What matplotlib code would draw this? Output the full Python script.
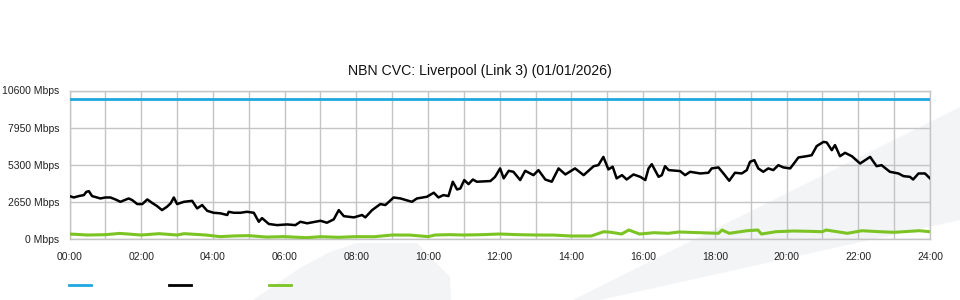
"""
NBN CVC: Liverpool (Link 3) - daily throughput chart, 01/01/2026.
Output: out.png (960x300)
"""
import matplotlib
matplotlib.use("Agg")
import matplotlib.pyplot as plt
from matplotlib.patches import Polygon
from matplotlib.lines import Line2D

plt.rcParams["font.family"] = ["Liberation Sans", "DejaVu Sans"]

TITLE = "NBN CVC: Liverpool (Link 3) (01/01/2026)"

# capacity (Mbps)
capacity_hours = [0, 24]
capacity_mbps = [10000, 10000]

# traffic (black), hours of day -> Mbps
traffic_hours = [
    0.00, 0.12, 0.26, 0.40, 0.47, 0.54, 0.63, 0.77, 0.86, 1.00, 1.14, 1.28,
    1.42, 1.65, 1.75, 1.89, 2.03, 2.17, 2.30, 2.44, 2.58, 2.72, 2.82, 2.91,
    3.00, 3.19, 3.42, 3.56, 3.70, 3.84, 4.02, 4.21, 4.40, 4.44, 4.58, 4.77,
    4.95, 5.14, 5.28, 5.37, 5.56, 5.79, 6.07, 6.30, 6.44, 6.63, 6.86, 7.00,
    7.18, 7.37, 7.51, 7.65, 7.93, 8.16, 8.25, 8.44, 8.67, 8.81, 9.04, 9.23,
    9.55, 9.69, 9.97, 10.16, 10.29, 10.43, 10.57, 10.69, 10.81, 10.90, 11.01,
    11.13, 11.25, 11.36, 11.74, 11.87, 12.01, 12.11, 12.25, 12.38, 12.57,
    12.71, 12.94, 13.08, 13.27, 13.45, 13.64, 13.83, 14.10, 14.34, 14.62,
    14.75, 14.89, 15.03, 15.15, 15.26, 15.41, 15.54, 15.73, 15.92, 16.06,
    16.15, 16.24, 16.43, 16.52, 16.61, 16.71, 17.03, 17.17, 17.31, 17.59,
    17.82, 17.91, 18.10, 18.24, 18.40, 18.56, 18.75, 18.89, 18.98, 19.10,
    19.21, 19.35, 19.49, 19.63, 19.77, 19.91, 20.10, 20.19, 20.33, 20.56,
    20.70, 20.84, 21.03, 21.12, 21.26, 21.35, 21.49, 21.63, 21.82, 22.05,
    22.33, 22.51, 22.65, 22.88, 23.12, 23.26, 23.44, 23.53, 23.68, 23.86,
    24.00,
]
traffic_mbps = [
    3080, 2980, 3080, 3150, 3380, 3430, 3080, 2980, 2910, 2980, 2980, 2840,
    2670, 2910, 2790, 2510, 2510, 2840, 2600, 2370, 2080, 2320, 2560, 2980,
    2510, 2670, 2740, 2200, 2440, 2030, 1890, 1850, 1730, 1960, 1890, 1890,
    1960, 1890, 1250, 1510, 1090, 1010, 1060, 1010, 1250, 1140, 1250, 1320,
    1180, 1420, 2080, 1650, 1560, 1730, 1560, 2080, 2510, 2440, 2980, 2910,
    2670, 2910, 3030, 3320, 2980, 3150, 3080, 4100, 3550, 3620, 4220,
    3930, 4260, 4100, 4150, 4450, 5050, 4340, 4880, 4810, 4220,
    4880, 4570, 4930, 4260, 4100, 5050, 4620, 5050, 4570, 5210,
    5280, 5870, 4980, 5170, 4340, 4570, 4260, 4620, 4450, 4220,
    5050, 5350, 4450, 4570, 5210, 4930, 4860, 4570, 4810, 4690,
    4740, 5050, 5120, 4690, 4170, 4740, 4690, 4930, 5520, 5640,
    5050, 4810, 5050, 4930, 5280, 5120, 5050, 5350, 5830, 5920,
    5990, 6640, 6940, 6900, 6350, 6710, 5920, 6160, 5920, 5400,
    5870, 5210, 5280, 4810, 4690, 4500, 4450, 4260, 4690, 4690,
    4340,
]

# green series, hours -> Mbps
green_hours = [
    0, 0.5, 1.0, 1.4, 2.0, 2.5, 3.0, 3.2, 3.8, 4.2, 4.6, 5.0, 5.5, 6.0, 6.6,
    7.0, 7.5, 8.0, 8.5, 9.0, 9.5, 10.0, 10.2, 10.6, 11.0, 11.5, 12.0, 12.5,
    13.0, 13.5, 14.0, 14.55, 14.9, 15.1, 15.4, 15.6, 15.9, 16.3, 16.7, 17.0,
    17.6, 18.1, 18.2, 18.4, 18.9, 19.2, 19.3, 19.7, 20.2, 20.6, 21.0, 21.1,
    21.7, 22.1, 22.6, 23.0, 23.7, 24.0,
]
green_mbps = [
    377, 306, 330, 420, 306, 400, 306, 400, 306, 190, 240, 260, 160, 190, 114,
    185, 142, 190, 185, 306, 300, 190, 306, 330, 306, 330, 377, 330,
    306, 300, 235, 235, 541, 500, 377, 662, 377, 470, 427, 520,
    470, 427, 662, 427, 612, 662, 377, 541, 591, 570, 541, 662,
    427, 612, 541, 498, 612, 541,
]

y_ticks = [0, 2650, 5300, 7950, 10600]
y_labels = [f"{v} Mbps" for v in y_ticks]
x_ticks = list(range(0, 25, 2))
x_labels = [f"{h:02d}:00" for h in x_ticks]

BLUE = "#1ea7e1"
GREEN = "#7cc424"
BLACK = "#000000"
GRID = "#c4c4c4"
WM = "#f3f4f6"

W, H = 960, 300
fig = plt.figure(figsize=(9.6, 3.0), dpi=100)


def px(pts):
    return [(x / W, 1 - y / H) for x, y in pts]


# watermark swoosh behind everything
for shape in ([(253, 300), (300, 268), (330, 252), (357, 243), (417, 243),
               (450, 277), (451, 300)],
              [(573, 300), (600, 300), (960, 220), (960, 107)]):
    fig.patches.append(Polygon(px(shape), closed=True, transform=fig.transFigure,
                               facecolor=WM, edgecolor="none", zorder=0))

ax = fig.add_axes([69.5 / W, 1 - 239.3 / H, 860.5 / W, 148.8 / H])
ax.set_facecolor("none")
ax.set_zorder(1)

ax.plot(capacity_hours, capacity_mbps, color=BLUE, lw=2.0, zorder=3)
ax.plot(traffic_hours, traffic_mbps, color=BLACK, lw=1.8, zorder=4)
ax.plot(green_hours, green_mbps, color=GREEN, lw=2.2, zorder=3)

ax.set_xlim(0, 24)
ax.set_ylim(0, 10600)
ax.set_xticks(x_ticks)
ax.set_xticklabels(x_labels)
ax.set_xticks(range(25), minor=True)
ax.set_yticks(y_ticks)
ax.set_yticklabels(y_labels)
ax.tick_params(axis="both", which="both", length=0, labelsize=7.5,
               colors="#222222")
ax.tick_params(axis="x", pad=9.5)
ax.tick_params(axis="y", pad=7.5)
for lab in ax.get_yticklabels():
    lab.set_verticalalignment("center_baseline")
ax.grid(True, which="both", color=GRID, lw=1.0)
for s in ax.spines.values():
    s.set_color(GRID)
    s.set_linewidth(1.0)

fig.text(0.5, 1 - 71 / H, TITLE, ha="center", va="center", fontsize=10.2,
         color="#111111")

# legend swatches (no labels)
for x0, c in [(69, BLUE), (169, BLACK), (269, GREEN)]:
    fig.lines.append(Line2D([x0 / W, (x0 + 22) / W], [1 - 285 / H] * 2,
                            transform=fig.transFigure, color=c, lw=2.0))

fig.savefig("out.png", dpi=100)
